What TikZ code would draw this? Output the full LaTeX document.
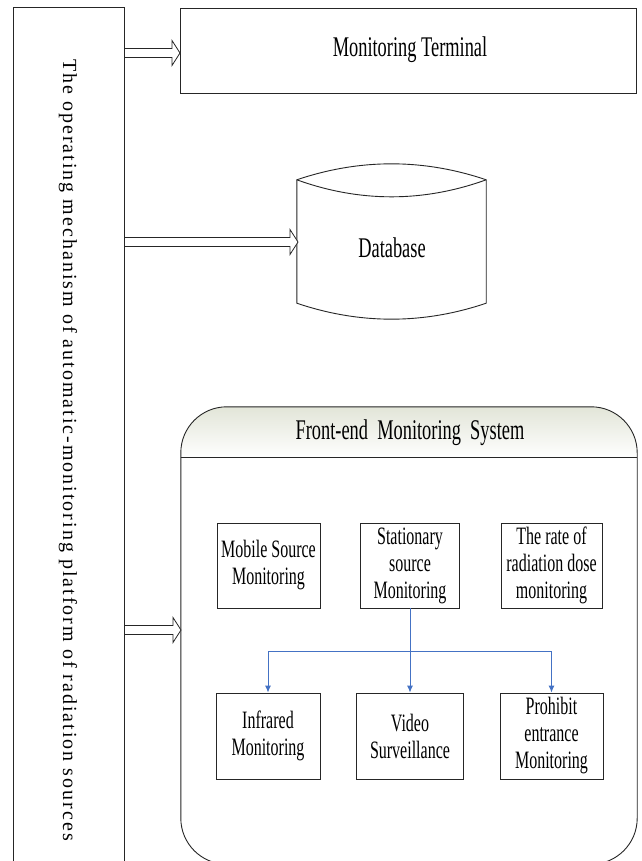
\documentclass[tikz,border=0pt]{standalone}
\usepackage{fontspec}
\setmainfont{Liberation Serif}
\newfontfamily\cnd{Liberation Serif}[FakeStretch=0.645]
\newfontfamily\cndb{Liberation Serif}[FakeStretch=0.64]
\newfontfamily\vfont{Liberation Serif}[LetterSpace=10]
\usetikzlibrary{calc,arrows.meta}
\definecolor{lnblue}{RGB}{68,114,196}
\definecolor{hdtop}{RGB}{226,229,216}
\tikzset{
  frame/.style={draw=black!85, line width=0.9pt},
  fatarrow/.style={draw=black!85, line width=0.8pt, fill=white},
  boxnode/.style={frame, align=center, inner sep=0pt, font=\cndb\fontsize{25}{27}\selectfont},
  bigtext/.style={inner sep=0pt, font=\cnd\fontsize{28.5}{30}\selectfont},
  blueline/.style={draw=lnblue, line width=0.9pt},
  bluearrow/.style={blueline, -{Latex[length=7pt,width=6pt]}}
}
\newcommand\hollowarrow[2]{%
  \fill[white] let \p1=(#1), \p2=(#2) in
    (\x1+0.5pt,\y1+4.5pt) -- (\x2-8pt,\y1+4.5pt) -- (\x2-8pt,\y1+12.5pt) -- (\x2,\y1)
    -- (\x2-8pt,\y1-12.5pt) -- (\x2-8pt,\y1-4.5pt) -- (\x1+0.5pt,\y1-4.5pt) -- cycle;
  \draw[fatarrow] let \p1=(#1), \p2=(#2) in
    (\x1,\y1+4.5pt) -- (\x2-8pt,\y1+4.5pt) -- (\x2-8pt,\y1+12.5pt) -- (\x2,\y1)
    -- (\x2-8pt,\y1-12.5pt) -- (\x2-8pt,\y1-4.5pt) -- (\x1,\y1-4.5pt);}
\begin{document}
\begin{tikzpicture}[x=1pt,y=-1pt]
\useasboundingbox (0,0) rectangle (641,861);
\clip (0,0) rectangle (641,861);
\fill[white] (0,0) rectangle (641,861);

% left bar
\node[minimum width=110pt, minimum height=853pt, inner sep=0pt] (bar) at (69,434.5) {};
\draw[frame] (bar.south west) -- (bar.north west) -- (bar.north east) -- (bar.south east);
\node[rotate=-90, inner sep=0pt, font=\vfont\fontsize{20}{22}\selectfont] (bartext) at (68,450)
  {The operating mechanism of automatic-monitoring platform of radiation sources};

% monitoring terminal
\node[frame, minimum width=456pt, minimum height=85pt, inner sep=0pt] (term) at (408,50.5) {};
\node[bigtext] (termtext) at (410,50) {Monitoring Terminal};

% database
\node[minimum width=189pt, minimum height=123pt, inner sep=0pt] (db) at (391.5,241.5) {};
\draw[frame, fill=white] (db.north west)
  .. controls ($(db.north west)+(63,-21.3)$) and ($(db.north east)+(-63,-21.3)$) .. (db.north east)
  -- (db.south east)
  .. controls ($(db.south east)+(-63,21.3)$) and ($(db.south west)+(63,21.3)$) .. (db.south west)
  -- cycle;
\draw[frame] (db.north west)
  .. controls ($(db.north west)+(63,22.7)$) and ($(db.north east)+(-63,22.7)$) .. (db.north east);
\node[bigtext] (dbtext) at (392,248) {Database};

% front-end system
\node[minimum width=456pt, minimum height=457pt, inner sep=0pt] (fe) at (409,635.5) {};
\begin{scope}
  \clip[rounded corners=46pt] (fe.south west) rectangle (fe.north east);
  \shade[top color=hdtop, bottom color=white] (fe.north west) rectangle ($(fe.north east)+(0,51)$);
\end{scope}
\draw[frame, rounded corners=46pt] (fe.south west) rectangle (fe.north east);
\coordinate (hdl) at ($(fe.north west)+(0,51)$);
\coordinate (hdr) at ($(fe.north east)+(0,51)$);
\draw[frame] (hdl) -- (hdr);
\node[bigtext] (fetext) at (410,433) {Front-end\ \ Monitoring\ \ System};

% inner boxes
\node[boxnode, minimum width=103pt, minimum height=85pt] (mob) at (268.5,565.5) {Mobile Source\\Monitoring};
\node[boxnode, minimum width=99pt, minimum height=85pt] (sta) at (410,565.5) {Stationary\\source\\Monitoring};
\node[boxnode, minimum width=101pt, minimum height=85pt] (rate) at (551.5,565.5) {The rate of\\radiation dose\\monitoring};
\node[boxnode, minimum width=104pt, minimum height=86pt] (ir) at (268,736) {Infrared\\Monitoring};
\node[boxnode, minimum width=107pt, minimum height=86pt] (vs) at (410,736) {Video\\Surveillance};
\node[boxnode, minimum width=103pt, minimum height=86pt] (pe) at (551.5,736) {Prohibit\\entrance\\Monitoring};

% blue connectors
\coordinate (j) at (410,651);
\draw[blueline] (sta.south) -- (j);
\draw[bluearrow] (j) -| (ir.north);
\draw[bluearrow] (j) -- (vs.north);
\draw[bluearrow] (j) -| (pe.north);

% hollow arrows
\coordinate (a1) at (180,53);
\coordinate (a2) at (298,242);
\coordinate (a3) at (181,630);
\hollowarrow{bar.east |- a1}{a1}
\hollowarrow{bar.east |- a2}{a2}
\hollowarrow{bar.east |- a3}{a3}
\draw[frame] (bar.north east) -- (bar.south east);
\end{tikzpicture}
\end{document}
